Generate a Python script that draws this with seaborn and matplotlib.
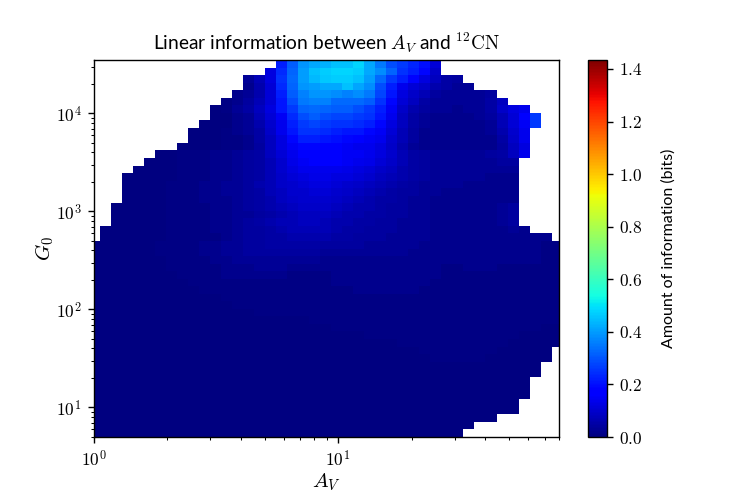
import numpy as np
import matplotlib
matplotlib.use("Agg")
import matplotlib.pyplot as plt
import seaborn as sns
from matplotlib.ticker import FuncFormatter

# log-spaced bin edges of the grid
av_edges = np.logspace(-0.0205, 1.919, 44)                   # A_V, 43 bins
g0_edges = np.logspace(np.log10(5.0), np.log10(3.5e4), 51)   # G_0, 50 bins

# linear information per cell, one string per G_0 row (top row first),
# one char per A_V bin: index in `levels` = hundredths of a bit, '.' = no data
levels = "0123456789abcdefghijklmnopqrstuvwxyzABCDEFGHIJKLMNOPQRSTUVWXYZ"
info_rows = [
    "....." "....." "....." "..mvD" "GHJJM" "Gztqn" "kb..." "....." "...",
    "....." "....." "....." ".cowE" "JLMML" "GCwpm" "j9..." "....." "...",
    "....." "....." "....3" "7cpxE" "IKLLJ" "Exqmi" "c854." "....." "...",
    "....." "....." "....2" "6bowD" "EGGJF" "Ctmeb" "96533" "....." "...",
    "....." "....." "...23" "6bmvA" "DDCAC" "zslc9" "74333" "34..." "...",
    "....." "....." "..124" "7bltz" "AAxxx" "vpjb8" "53333" "358.." "...",
    "....." "....." ".0135" "8clqw" "xwvvt" "qmf96" "43323" "359ce" "...",
    "....." "....." ".0023" "7bfot" "vtssq" "ple85" "32222" "347bg" "q..",
    "....." "....." "00023" "6aemq" "sqppo" "mjc85" "32222" "237bf" "q..",
    "....." "....0" "00123" "59elp" "pomll" "jfb74" "22222" "236ae" "...",
    "....." "....0" "00112" "58cjm" "mlkjg" "fea74" "22222" "2259e" "...",
    "....." "...00" "00112" "48cfj" "jggfe" "ec963" "22222" "2248c" "...",
    "....." ".0011" "12234" "58beg" "gggff" "eca75" "43333" "3458e" "...",
    "....." "00011" "12234" "57adf" "gggfe" "db975" "43333" "3344." "...",
    "....0" "00011" "12234" "57ace" "eeedc" "b9865" "43333" "3333." "...",
    "...00" "00011" "12234" "579bc" "ddccb" "a8765" "43333" "3222." "...",
    "...00" "00111" "22334" "679ab" "ccba9" "87654" "33332" "2222." "...",
    "...00" "00111" "22334" "578aa" "bba98" "76544" "33222" "2222." "...",
    "...00" "00111" "22234" "5689a" "aa987" "65543" "32222" "2222." "...",
    "..000" "00111" "12234" "56789" "99876" "65443" "32222" "2234." "...",
    "..000" "00111" "12233" "45678" "88766" "55443" "32222" "2234." "...",
    "..000" "00111" "12234" "56778" "87665" "54433" "32222" "2234." "...",
    ".0000" "00111" "12234" "45677" "77655" "44433" "32222" "22232" "...",
    ".0000" "00111" "11234" "45566" "66554" "44333" "32222" "22222" "22.",
    "00000" "01111" "22334" "45555" "54444" "33333" "22222" "22222" "211",
    "00000" "01111" "22334" "44444" "43333" "33332" "22222" "22222" "211",
    "00000" "00111" "12233" "33333" "32222" "22222" "22222" "22222" "211",
    "00000" "00111" "11222" "33322" "22222" "22222" "22112" "22111" "111",
    "00000" "00011" "11222" "22211" "11222" "22222" "22111" "11111" "111",
    "00000" "00001" "11111" "11111" "11222" "22222" "21111" "11111" "111",
    "00000" "00000" "11111" "11111" "11112" "22222" "11111" "11111" "111",
    "00000" "00000" "00111" "11111" "11111" "11111" "11111" "11111" "111",
    "00000" "00000" "00011" "11111" "11111" "11111" "11111" "11111" "111",
    "00000" "00000" "00000" "11111" "11111" "11111" "11111" "11111" "111",
    "00000" "00000" "00000" "00000" "11111" "11111" "11111" "11111" "111",
    "00000" "00000" "00000" "00000" "00111" "11111" "11111" "11111" "100",
    "00000" "00000" "00000" "00000" "00000" "11111" "11111" "11110" "000",
    "00000" "00000" "00000" "00000" "00000" "00011" "11111" "11100" "000",
    "00000" "00000" "00000" "00000" "00000" "00000" "11111" "11000" "00.",
    "00000" "00000" "00000" "00000" "00000" "00000" "01111" "10000" "00.",
    "00000" "00000" "00000" "00000" "00000" "00000" "00000" "00000" "0..",
    "00000" "00000" "00000" "00000" "00000" "00000" "00000" "00000" "0..",
    "00000" "00000" "00000" "00000" "00000" "00000" "00000" "00000" "...",
    "00000" "00000" "00000" "00000" "00000" "00000" "00000" "00000" "...",
    "00000" "00000" "00000" "00000" "00000" "00000" "00000" "00000" "...",
    "00000" "00000" "00000" "00000" "00000" "00000" "00000" "0000." "...",
    "00000" "00000" "00000" "00000" "00000" "00000" "00000" "0000." "...",
    "00000" "00000" "00000" "00000" "00000" "00000" "00000" "00..." "...",
    "00000" "00000" "00000" "00000" "00000" "00000" "00000" "....." "...",
    "00000" "00000" "00000" "00000" "00000" "00000" "0000." "....." "...",
]

# decode to a masked array, bottom row first for pcolormesh
grid = np.array([[np.nan if c == "." else levels.index(c) / 100 for c in row]
                 for row in info_rows[::-1]])
grid = np.ma.masked_invalid(grid)

sns.set_style("ticks", {"axes.edgecolor": "black", "xtick.color": "black",
                        "ytick.color": "black", "text.color": "black",
                        "axes.labelcolor": "black"})
plt.rcParams["font.family"] = ["Lato", "DejaVu Sans"]
plt.rcParams["mathtext.fontset"] = "cm"

fig, ax = plt.subplots(figsize=(6, 4), dpi=125)
fig.subplots_adjust(left=0.125, right=0.9, top=0.88, bottom=0.126)

mesh = ax.pcolormesh(av_edges, g0_edges, grid, cmap="jet", vmin=0, vmax=1.434,
                     edgecolors="none", linewidth=0)
ax.set_xscale("log")
ax.set_yscale("log")
ax.set_xlim(1, 80)
ax.set_ylim(5, 3.5e4)

# decade labels in the serif math font
pow10 = FuncFormatter(lambda v, p: rf"$10^{{{int(round(np.log10(v)))}}}$")
ax.xaxis.set_major_formatter(pow10)
ax.yaxis.set_major_formatter(pow10)

ax.set_xlabel(r"$A_V$", fontsize=12, labelpad=1)
ax.set_ylabel(r"$G_0$", fontsize=12, labelpad=0)
ax.set_title(r"Linear information between $A_V$ and $^{12}\mathrm{CN}$",
             fontsize=11)

cbar = fig.colorbar(mesh, ax=ax)
cbar.set_label("Amount of information (bits)", fontsize=9.2, labelpad=11)
cbar.ax.yaxis.set_major_formatter(FuncFormatter(lambda v, p: rf"${v:.1f}$"))

fig.savefig("out.png", dpi=125)
